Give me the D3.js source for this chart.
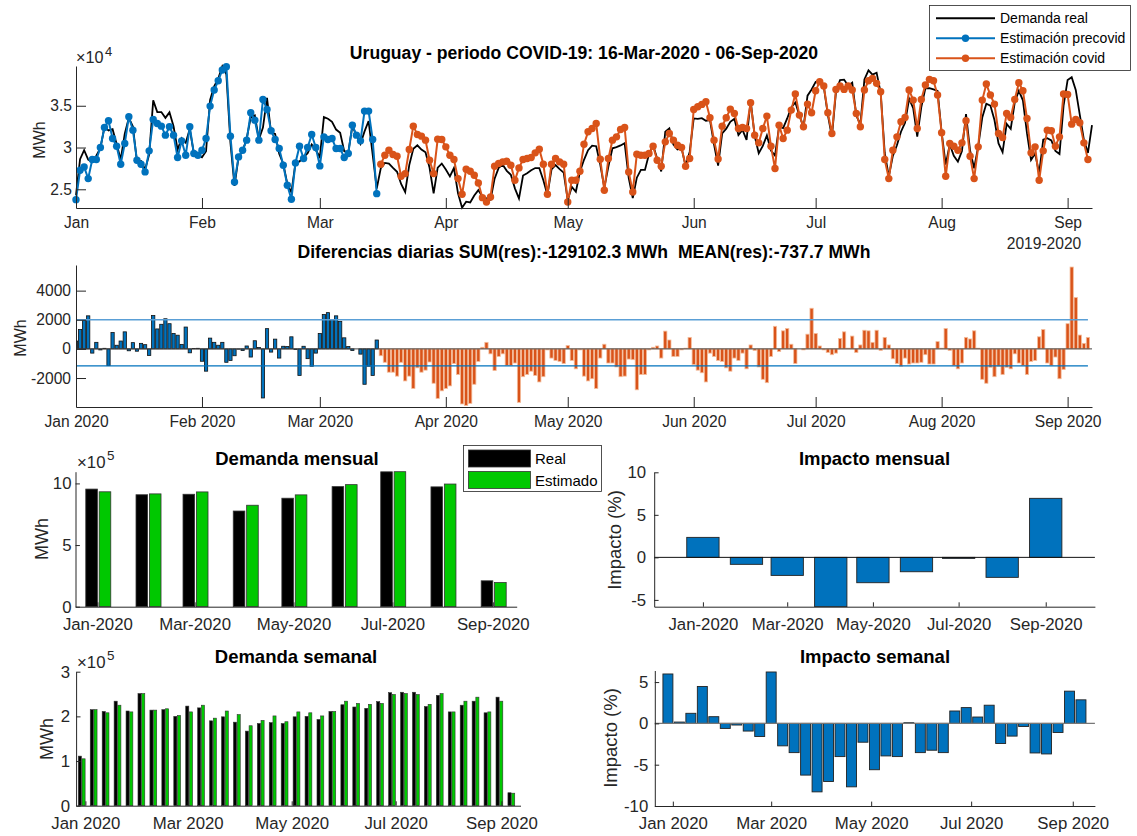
<!DOCTYPE html>
<html>
<head>
<meta charset="utf-8">
<script src="https://cdn.jsdelivr.net/npm/d3@7"></script>
<style>
  body { margin: 0; background: #fff; }
</style>
</head>
<body>
<div id="chart"></div>
<script>
// ---------- Datos ----------
const firstDay = '2020-01-01';   // primer día de la serie diaria
const covidDay = '2020-03-16';   // inicio del periodo covid

// Demanda real diaria (MWh), 01-Jan-2020 .. 07-Sep-2020
const realDaily = [
  24300,28610,29680,28550,28270,29010,29930,32440,32050,32200,
  30410,28540,31650,33550,32510,28320,28380,27370,29150,35650,
  34250,34250,33550,34210,32540,29740,31110,30580,32210,29300,
  29120,28830,29550,35700,37330,38250,39730,38760,30570,25410,
  28860,29570,31080,33600,33840,30970,32390,35950,31780,31630,
  29250,28060,25640,24630,28120,28340,28860,29330,30370,29710,
  28860,33640,33450,33080,32150,31770,29560,29440,32570,31480,
  30440,31930,33170,29140,25090,
  27530,28160,28080,27560,27090,25640,24680,27890,29840,30260,
  29760,29420,27580,24520,27600,28080,27360,26540,27550,24520,
  22800,23510,23420,24250,24900,24110,23930,23740,26270,27560,
  27940,27210,26730,25110,23890,26650,26920,27270,27540,27530,
  26090,24330,27370,27890,27420,26990,23710,25290,24710,27090,
  28530,29680,30230,30160,27970,25200,27710,29910,30040,30250,
  30530,26380,23940,26390,27320,27320,29210,30270,28680,27130,
  31900,32290,30360,29760,29930,27810,29470,33480,33420,33520,
  33210,33270,30360,27830,31700,32260,33070,33450,31490,32110,
  30910,35630,31370,29320,30190,31440,29640,29030,32500,32320,
  33480,34800,35390,33880,32410,36210,36950,37860,38080,37290,
  33910,31280,36670,38080,38130,37410,37760,33830,32750,38160,
  39240,38730,38960,36570,29350,26550,29000,30270,31890,32970,
  35840,34710,31310,34840,37080,37120,36960,36780,31810,27960,
  30370,29010,28310,29590,33990,29640,27520,30130,33590,35240,
  35020,33290,30490,29440,32820,32230,35420,36790,35650,31720,
  28500,29290,26910,30930,31110,30850,29600,29230,34980,38090,
  38420,36890,33910,30940,29350,32680
];

// Estimación precovid (MWh), 01-Jan-2020 .. 15-Mar-2020
const precovidEst = [
  23760,27280,27680,26280,28560,28560,30000,32400,33200,31080,
  30160,28000,30480,33680,32080,28480,28000,27080,29600,33360,
  32880,32560,31480,32480,31480,28800,30800,29080,32480,29280,
  29080,29680,31080,34960,36880,38000,39280,39680,31360,25880,
  28880,29680,30880,34160,33280,30880,35760,34560,32000,30960,
  29880,27880,25480,23800,28160,30160,28680,30000,31560,30000,
  27800,31280,30960,31080,29880,29880,28800,29280,32680,31480,
  30800,34360,34360,30960,24480
];

// Estimación covid (MWh), 16-Mar-2020 .. 06-Sep-2020
const covidEst = [
  28000,29080,29680,29160,28960,26560,26880,29760,32560,31560,
  31360,30880,28480,26880,31000,30960,30080,29080,28560,26280,
  24400,27400,27160,26680,25760,24000,23480,24080,27760,28080,
  28280,28360,27880,26080,27560,28560,28680,28800,29360,29800,
  28000,24400,28000,28680,28280,28000,23480,26080,26080,27160,
  30400,31880,32280,32880,28600,24880,28680,30880,31280,32160,
  32400,27080,24680,29200,29080,29080,29280,30160,28480,27760,
  30680,31680,30880,30280,30000,27760,28680,34560,34880,35160,
  35480,33560,30880,28620,32560,33560,34600,34080,32280,32400,
  32280,35360,31480,30560,32280,33760,30160,27480,32680,31080,
  32080,34480,36400,33880,32480,35200,34160,36800,37880,37360,
  34160,31680,36960,37360,36960,37360,36880,34080,32480,36880,
  38000,38280,37680,36680,28560,26280,29680,31280,33080,33600,
  36880,35680,32280,35760,37480,38160,38000,36280,31760,26560,
  30480,30160,29680,30560,33200,28960,26280,30080,35680,37600,
  36280,35200,31680,31200,34080,33600,35760,37760,36800,33480,
  29360,30080,26080,29600,32080,32000,30160,31280,36400,36360,
  32800,33360,32960,30560,28560
];

// Diferencias diarias real - estimado (MWh)
const resPrecovid = [
  540,1330,2000,2270,-290,450,-70,40,-1150,1120,
  250,540,1170,-130,430,-160,380,290,-450,2290,
  1370,1690,2070,1730,1060,940,310,1500,-270,20,
  40,-850,-1530,740,450,250,450,-920,-790,-470,
  -20,-110,200,-560,560,90,-3370,1390,-220,670,
  -630,180,160,830,-40,-1820,180,-670,-1190,-290,
  1060,2360,2490,2000,2270,1890,760,160,-110,0,
  -360,-2430,-1190,-1820,610
];
const resCovid = [
  -470,-920,-1600,-1600,-1870,-920,-2200,-1870,-2720,-1300,
  -1600,-1460,-900,-2360,-3400,-2880,-2720,-2540,-1010,-1760,
  -3780,-3890,-3740,-2430,-860,110,450,-340,-1490,-520,
  -340,-1150,-1150,-970,-3670,-1910,-1760,-1530,-1820,-2270,
  -1910,-70,-630,-790,-860,-1010,230,-790,-1370,-70,
  -1870,-2200,-2050,-2720,-630,320,-970,-970,-1240,-1910,
  -1870,-700,-740,-2810,-1760,-1760,-70,110,200,-630,
  1220,610,-520,-520,-70,50,790,-1080,-1460,-1640,
  -2270,-290,-520,-790,-860,-1300,-1530,-630,-790,-290,
  -1370,270,-110,-1240,-2090,-2320,-520,1550,-180,1240,
  1400,320,-1010,0,-70,1010,2790,1060,200,-70,
  -250,-400,-290,720,1170,50,880,-250,270,1280,
  1240,450,1280,-110,790,270,-680,-1010,-1190,-630,
  -1040,-970,-970,-920,-400,-1040,-1040,500,50,1400,
  -110,-1150,-1370,-970,790,680,1240,50,-2090,-2360,
  -1260,-1910,-1190,-1760,-1260,-1370,-340,-970,-1150,-1760,
  -860,-790,830,1330,-970,-1150,-560,-2050,-1420,1730,
  5620,3530,950,380,790
];
const resBands = [2000, -1170];   // líneas horizontales de referencia

// Mensual
const months = ['2020-01-01','2020-02-01','2020-03-01','2020-04-01','2020-05-01',
                '2020-06-01','2020-07-01','2020-08-01','2020-09-01'];
const monthlyReal = [954000, 908000, 912000, 776000, 880000, 974000, 1094000, 972000, 210000];
const monthlyEst  = [932000, 915000, 931000, 823000, 907000, 990000, 1095000, 995000, 196000];
const monthlyImpact = [2.35, -0.82, -2.12, -5.8, -2.98, -1.69, -0.12, -2.35, 6.94];

// Semanal (semanas que empiezan en domingo)
const firstWeek = '2019-12-29';
const weeklyReal = [1.11,2.15,2.11,2.34,2.12,2.51,2.14,2.15,2.00,2.23,2.19,1.90,1.99,1.87,1.67,
  1.84,1.86,1.84,1.99,2.00,1.93,2.11,2.26,2.21,2.18,2.33,2.53,2.54,2.54,2.22,2.47,2.10,2.25,
  2.34,2.08,2.43,0.29].map(v => v * 1e5);
const weeklyEst = [1.05,2.15,2.08,2.25,2.10,2.51,2.14,2.17,2.02,2.10,2.25,1.96,2.12,2.04,1.79,
  1.91,2.01,1.88,2.10,2.08,2.01,2.11,2.34,2.29,2.27,2.29,2.49,2.51,2.49,2.27,2.51,2.10,2.34,
  2.43,2.10,2.34,0.28].map(v => v * 1e5);
const weeklyImpact = [5.98,0.16,1.22,4.47,0.81,-0.61,-0.2,-0.93,-1.59,6.22,-2.72,-3.54,-6.26,
  -8.29,-7.03,-4.02,-7.68,-2.28,-5.61,-3.94,-4.02,0.08,-3.54,-3.25,-3.54,1.5,1.91,0.77,2.2,
  -2.44,-1.54,-0.37,-3.58,-3.7,-1.1,3.9,2.85];

// Ticks
const topTicks = ['2020-01-01','2020-02-01','2020-03-01','2020-04-01','2020-05-01',
                  '2020-06-01','2020-07-01','2020-08-01','2020-09-01'];
const bottomTicks = ['2020-01-01','2020-03-01','2020-05-01','2020-07-01','2020-09-01'];

// ---------- Estilo ----------
const FONT = '"Liberation Sans", Arial, Helvetica, sans-serif';
const TXT = '#262626';
const BLUE = '#0072BD', ORANGE = '#D95319', GREEN = '#00C800';

const parse = d3.timeParse('%Y-%m-%d');
const t0 = parse(firstDay);
const tCovid = parse(covidDay);
const nPre = d3.timeDay.count(t0, tCovid);
const dayAt = i => d3.timeDay.offset(t0, i);

const svg = d3.select('#chart').append('svg')
    .attr('width', 1137).attr('height', 836)
    .attr('font-family', FONT);

function styleAxis(g, fs) {
  g.attr('font-family', FONT).attr('font-size', fs).attr('color', TXT);
}

function addTitle(x, y, fs, text) {
  svg.append('text').attr('x', x).attr('y', y)
      .attr('text-anchor', 'middle').attr('font-size', fs)
      .attr('font-weight', 'bold').attr('fill', '#000')
      .style('white-space', 'pre').text(text);
}

function addYLabel(x, y, fs, text) {
  svg.append('text').attr('transform', `translate(${x},${y}) rotate(-90)`)
      .attr('text-anchor', 'middle').attr('font-size', fs)
      .attr('fill', TXT).text(text);
}

function addExp(x, y, fs, p) {
  const t = svg.append('text').attr('x', x).attr('y', y)
      .attr('font-size', fs).attr('fill', TXT);
  t.append('tspan').text('×10');
  t.append('tspan').attr('dx', 1.5).attr('dy', -fs * 0.45).attr('font-size', fs * 0.8).text(p);
}

function clip(id, x0, x1, y0, y1) {
  svg.append('clipPath').attr('id', id).append('rect')
      .attr('x', x0).attr('y', y0).attr('width', x1 - x0).attr('height', y1 - y0);
  return `url(#${id})`;
}

const plainNum = d => String(d);

// ---------- 1. Demanda diaria ----------
const xDay = d3.scaleTime().domain([parse('2020-01-01'), parse('2020-09-07')]).range([76, 1092]);
const yTop = d3.scaleLinear().domain([22760, 39760]).range([208, 66]);

const realPts = realDaily.map((v, i) => ({ t: dayAt(i), v }));
const prePts = precovidEst.map((v, i) => ({ t: dayAt(i), v }));
const covPts = covidEst.map((v, i) => ({ t: dayAt(nPre + i), v }));

const line = d3.line().x(d => xDay(d.t)).y(d => yTop(d.v));
const gTop = svg.append('g').attr('clip-path', clip('cTop', 70, 1098, 60, 214));

gTop.append('path').datum(realPts).attr('d', line)
    .attr('fill', 'none').attr('stroke', '#000').attr('stroke-width', 1.8);

[[prePts, BLUE], [covPts, ORANGE]].forEach(([pts, col]) => {
  gTop.append('path').datum(pts).attr('d', line)
      .attr('fill', 'none').attr('stroke', col).attr('stroke-width', 2);
  gTop.selectAll(null).data(pts).enter().append('circle')
      .attr('cx', d => xDay(d.t)).attr('cy', d => yTop(d.v))
      .attr('r', 3.7).attr('fill', col);
});

svg.append('g').attr('transform', 'translate(0,208)')
    .call(d3.axisBottom(xDay).tickValues(topTicks.map(parse))
      .tickFormat(d3.timeFormat('%b')).tickSize(-10).tickSizeOuter(0).tickPadding(9))
    .call(g => styleAxis(g, 15.6));
svg.append('g').attr('transform', 'translate(76,0)')
    .call(d3.axisLeft(yTop).tickValues([25000, 30000, 35000])
      .tickFormat(d => String(d / 1e4)).tickSize(-10).tickSizeOuter(0).tickPadding(4))
    .call(g => styleAxis(g, 15.6));

addExp(76, 63, 16.2, '4');
addYLabel(45, 140, 16, 'MWh');
addTitle(584, 59, 17.6, 'Uruguay - periodo COVID-19: 16-Mar-2020 - 06-Sep-2020');
svg.append('text').attr('x', 1044).attr('y', 249).attr('text-anchor', 'middle')
    .attr('font-size', 15.6).attr('fill', TXT).text('2019-2020');

// leyenda superior
const leg = svg.append('g');
leg.append('rect').attr('x', 929.5).attr('y', 5.5).attr('width', 201).attr('height', 65)
    .attr('fill', '#fff').attr('stroke', TXT).attr('stroke-width', 0.8);
[['Demanda real', '#000', false], ['Estimación precovid', BLUE, true], ['Estimación covid', ORANGE, true]]
  .forEach(([name, col, mark], i) => {
    const y = 18.3 + i * 20;
    leg.append('line').attr('x1', 936).attr('x2', 995).attr('y1', y).attr('y2', y)
        .attr('stroke', col).attr('stroke-width', 2);
    if (mark) leg.append('circle').attr('cx', 965.5).attr('cy', y).attr('r', 3.7).attr('fill', col);
    leg.append('text').attr('x', 1000).attr('y', y + 5).attr('font-size', 14)
        .attr('fill', '#000').text(name);
  });

// ---------- 2. Diferencias diarias ----------
const yDiff = d3.scaleLinear().domain([-3990, 5760]).range([407, 265]);
const resPts = resPrecovid.map((v, i) => ({ t: dayAt(i), v, c: BLUE, e: '#111' }))
  .concat(resCovid.map((v, i) => ({ t: dayAt(nPre + i), v, c: ORANGE, e: '#f4bd9c' })));
const bw = (xDay(dayAt(1)) - xDay(dayAt(0))) * 0.8;
const gDiff = svg.append('g').attr('clip-path', clip('cDiff', 76, 1092, 265, 407));

gDiff.selectAll('rect').data(resPts).enter().append('rect')
    .attr('x', d => xDay(d.t) - bw / 2)
    .attr('y', d => yDiff(Math.max(0, d.v)))
    .attr('width', bw)
    .attr('height', d => Math.abs(yDiff(d.v) - yDiff(0)))
    .attr('fill', d => d.c).attr('stroke', d => d.e).attr('stroke-width', 0.8);

gDiff.append('line').attr('x1', 76).attr('x2', 1092)
    .attr('y1', yDiff(0)).attr('y2', yDiff(0)).attr('stroke', '#444').attr('stroke-width', 1);
const lastRes = dayAt(resPrecovid.length + resCovid.length - 1);
resBands.forEach((b, i) => {
  gDiff.append('line').attr('x1', xDay(t0)).attr('x2', xDay(lastRes))
      .attr('y1', yDiff(b)).attr('y2', yDiff(b))
      .attr('stroke', i === 0 ? '#5a9fd6' : BLUE).attr('stroke-width', i === 0 ? 1.6 : 1.3);
});

svg.append('g').attr('transform', 'translate(0,407)')
    .call(d3.axisBottom(xDay).tickValues(topTicks.map(parse))
      .tickFormat(d3.timeFormat('%b %Y')).tickSize(-10).tickSizeOuter(0).tickPadding(9))
    .call(g => styleAxis(g, 15.6));
svg.append('g').attr('transform', 'translate(76,0)')
    .call(d3.axisLeft(yDiff).tickValues([-2000, 0, 2000, 4000])
      .tickFormat(plainNum).tickSize(-10).tickSizeOuter(0).tickPadding(5))
    .call(g => styleAxis(g, 15.6));

addYLabel(26, 338, 16, 'MWh');
addTitle(584, 258, 17.6, 'Diferencias diarias SUM(res):-129102.3 MWh  MEAN(res):-737.7 MWh');

// ---------- 3. Demanda mensual ----------
const monthDates = months.map(parse);
const xMon = d3.scaleTime().domain([new Date(2019, 11, 18, 12), new Date(2020, 8, 15, 18)]).range([75.5, 516.7]);
const yMon = d3.scaleLinear().domain([0, 1095000]).range([606.7, 471.7]);
const mw = 11.6;
const gMon = svg.append('g').attr('clip-path', clip('cMon', 75, 517, 470, 607));

gMon.selectAll('rect.real').data(monthlyReal).enter().append('rect')
    .attr('x', (d, i) => xMon(monthDates[i]) - mw)
    .attr('y', d => yMon(d)).attr('width', mw).attr('height', d => yMon(0) - yMon(d))
    .attr('fill', '#000').attr('stroke', '#333').attr('stroke-width', 0.8);
gMon.selectAll('rect.est').data(monthlyEst).enter().append('rect')
    .attr('x', (d, i) => xMon(monthDates[i]) + 1.8)
    .attr('y', d => yMon(d)).attr('width', mw).attr('height', d => yMon(0) - yMon(d))
    .attr('fill', GREEN).attr('stroke', '#333').attr('stroke-width', 0.8);

svg.append('g').attr('transform', 'translate(0,606.7)')
    .call(d3.axisBottom(xMon).tickValues(bottomTicks.map(parse))
      .tickFormat(d3.timeFormat('%b-%Y')).tickSize(-4.4).tickSizeOuter(0).tickPadding(11))
    .call(g => styleAxis(g, 16.8));
svg.append('g').attr('transform', 'translate(75.5,0)')
    .call(d3.axisLeft(yMon).tickValues([0, 500000, 1000000])
      .tickFormat(d => String(d / 1e5)).tickSize(-4.4).tickSizeOuter(0).tickPadding(4))
    .call(g => styleAxis(g, 16.8));

addExp(77, 468, 16.8, '5');
addYLabel(47.5, 539, 18, 'MWh');
addTitle(297, 465, 18.5, 'Demanda mensual');

// leyenda inferior
const leg2 = svg.append('g');
leg2.append('rect').attr('x', 463.5).attr('y', 445.5).attr('width', 138).attr('height', 46)
    .attr('fill', '#fff').attr('stroke', TXT).attr('stroke-width', 0.8);
[['Real', '#000'], ['Estimado', GREEN]].forEach(([name, col], i) => {
  const y = 450 + i * 21.5;
  leg2.append('rect').attr('x', 468.5).attr('y', y).attr('width', 62).attr('height', 17)
      .attr('fill', col).attr('stroke', '#333').attr('stroke-width', 0.8);
  leg2.append('text').attr('x', 535).attr('y', y + 14).attr('font-size', 15)
      .attr('fill', '#000').text(name);
});

// ---------- 4. Impacto mensual ----------
const xImpM = d3.scaleTime().domain([new Date(2019, 10, 27, 8), new Date(2020, 9, 6)]).range([654.2, 1094.9]);
const yImpM = d3.scaleLinear().domain([-5.8, 10]).range([606.7, 472.3]);
const imw = xImpM(d3.timeDay.offset(t0, 23.2)) - xImpM(t0);
const gImpM = svg.append('g').attr('clip-path', clip('cImpM', 654, 1095, 470, 607));

gImpM.selectAll('rect').data(monthlyImpact).enter().append('rect')
    .attr('x', (d, i) => xImpM(monthDates[i]) - imw / 2)
    .attr('y', d => yImpM(Math.max(0, d)))
    .attr('width', imw).attr('height', d => Math.abs(yImpM(d) - yImpM(0)))
    .attr('fill', BLUE).attr('stroke', '#222').attr('stroke-width', 0.9);
svg.append('line').attr('x1', 654.2).attr('x2', 1094.9)
    .attr('y1', yImpM(0)).attr('y2', yImpM(0)).attr('stroke', '#111').attr('stroke-width', 1);

svg.append('g').attr('transform', 'translate(0,606.7)')
    .call(d3.axisBottom(xImpM).tickValues(bottomTicks.map(parse))
      .tickFormat(d3.timeFormat('%b-%Y')).tickSize(-4.4).tickSizeOuter(0).tickPadding(11))
    .call(g => styleAxis(g, 16.8));
svg.append('g').attr('transform', 'translate(654.2,0)')
    .call(d3.axisLeft(yImpM).tickValues([-5, 0, 5, 10])
      .tickFormat(plainNum).tickSize(-4.4).tickSizeOuter(0).tickPadding(8))
    .call(g => styleAxis(g, 16.8));

addYLabel(621, 540, 18.5, 'Impacto (%)');
addTitle(874.5, 465, 18.5, 'Impacto mensual');

// ---------- 5. Demanda semanal ----------
const wk0 = parse(firstWeek);
const weekDates = weeklyReal.map((d, i) => d3.timeWeek.offset(wk0, i));
const xWk = d3.scaleTime().domain([new Date(2019, 11, 26, 13), new Date(2020, 8, 12, 5)]).range([76.1, 520.5]);
const yWk = d3.scaleLinear().domain([0, 3e5]).range([805.7, 671.7]);
const ww = 3.1;
const pairX = i => xWk(d3.timeHour.offset(weekDates[i], 20));
const gWk = svg.append('g').attr('clip-path', clip('cWk', 76, 521, 670, 806));

gWk.selectAll('rect.real').data(weeklyReal).enter().append('rect')
    .attr('x', (d, i) => pairX(i) - ww - 0.3)
    .attr('y', d => yWk(d)).attr('width', ww).attr('height', d => yWk(0) - yWk(d))
    .attr('fill', '#000').attr('stroke', '#333').attr('stroke-width', 0.6);
gWk.selectAll('rect.est').data(weeklyEst).enter().append('rect')
    .attr('x', (d, i) => pairX(i) + 0.3)
    .attr('y', d => yWk(d)).attr('width', ww).attr('height', d => yWk(0) - yWk(d))
    .attr('fill', GREEN).attr('stroke', '#333').attr('stroke-width', 0.6);

svg.append('g').attr('transform', 'translate(0,805.7)')
    .call(d3.axisBottom(xWk).tickValues(bottomTicks.map(parse))
      .tickFormat(d3.timeFormat('%b %Y')).tickSize(-4.4).tickSizeOuter(0).tickPadding(11.5))
    .call(g => styleAxis(g, 16.8));
svg.append('g').attr('transform', 'translate(76.1,0)')
    .call(d3.axisLeft(yWk).tickValues([0, 1e5, 2e5, 3e5])
      .tickFormat(d => String(d / 1e5)).tickSize(-4.4).tickSizeOuter(0).tickPadding(6))
    .call(g => styleAxis(g, 16.8));

addExp(77, 668, 16.8, '5');
addYLabel(53, 739, 18, 'MWh');
addTitle(296, 663, 18.5, 'Demanda semanal');

// ---------- 6. Impacto semanal ----------
const xImpW = d3.scaleTime().domain([new Date(2019, 11, 21), new Date(2020, 8, 14, 12)]).range([654.8, 1094.9]);
const yImpW = d3.scaleLinear().domain([-10, 6.4]).range([806, 670.5]);
const iww = (xImpW(d3.timeDay.offset(t0, 7)) - xImpW(t0)) * 0.87;
const gImpW = svg.append('g').attr('clip-path', clip('cImpW', 654, 1095, 669, 807));

gImpW.selectAll('rect').data(weeklyImpact).enter().append('rect')
    .attr('x', (d, i) => xImpW(weekDates[i]) - iww / 2)
    .attr('y', d => yImpW(Math.max(0, d)))
    .attr('width', iww).attr('height', d => Math.abs(yImpW(d) - yImpW(0)))
    .attr('fill', BLUE).attr('stroke', '#222').attr('stroke-width', 0.9);
svg.append('line').attr('x1', 654.8).attr('x2', 1094.9)
    .attr('y1', yImpW(0)).attr('y2', yImpW(0)).attr('stroke', '#777').attr('stroke-width', 1.2);

svg.append('g').attr('transform', 'translate(0,806)')
    .call(d3.axisBottom(xImpW).tickValues(bottomTicks.map(parse))
      .tickFormat(d3.timeFormat('%b %Y')).tickSize(-4.4).tickSizeOuter(0).tickPadding(11.5))
    .call(g => styleAxis(g, 16.8));
svg.append('g').attr('transform', 'translate(654.8,0)')
    .call(d3.axisLeft(yImpW).tickValues([-10, -5, 0, 5])
      .tickFormat(plainNum).tickSize(-4.4).tickSizeOuter(0).tickPadding(6.5))
    .call(g => styleAxis(g, 16.8));

addYLabel(617, 738, 18.5, 'Impacto (%)');
addTitle(875, 663, 18.5, 'Impacto semanal');
</script>
</body>
</html>
